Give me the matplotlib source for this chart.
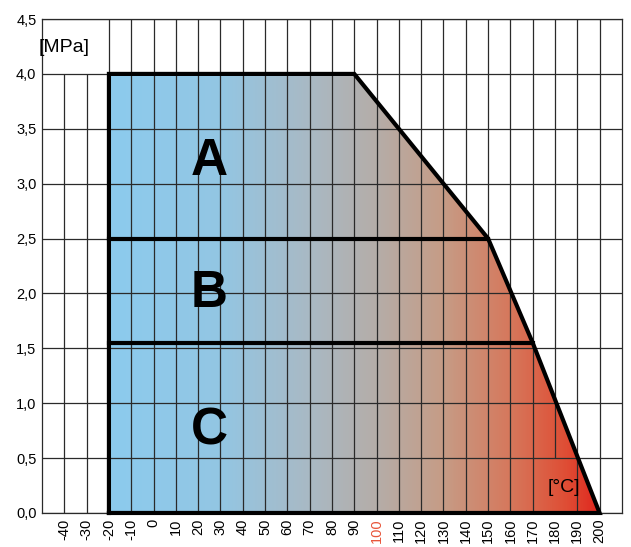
import numpy as np
import matplotlib
matplotlib.use("Agg")
import matplotlib.pyplot as plt
from matplotlib.patches import Polygon
from matplotlib.colors import LinearSegmentedColormap

plt.rcParams['font.family'] = ['Liberation Sans', 'DejaVu Sans']

# outline of the operating area (temperature in °C, pressure in MPa)
outline_t = [-20, -20, 90, 150, 170, 200]
outline_p = [0.0, 4.0, 4.0, 2.5, 1.55, 0.0]

# class boundaries
ab_line = (2.5, 150)    # pressure, end temperature
bc_line = (1.55, 170)

classes = ['A', 'B', 'C']
class_t = [25, 25, 25]
class_p = [3.2, 2.0, 0.75]

x_ticks = list(range(-40, 201, 10))
y_ticks = [0.0, 0.5, 1.0, 1.5, 2.0, 2.5, 3.0, 3.5, 4.0, 4.5]

# gradient colour stops (temperature -> colour)
grad_t = [-20, 30, 70, 100, 130, 160, 185, 200]
grad_c = ['#8ccbee', '#93c6e3', '#a9b9c4', '#b5ada8', '#c69c86', '#d6785c', '#df4e35', '#e0261e']

fig = plt.figure(figsize=(6.31, 5.47), dpi=100)
ax = fig.add_axes([0.0666, 0.0622, 0.919, 0.903])

# gradient fill clipped to the outline
pos = [(t - grad_t[0]) / (grad_t[-1] - grad_t[0]) for t in grad_t]
cmap = LinearSegmentedColormap.from_list('heat', list(zip(pos, grad_c)))
grad = np.linspace(0, 1, 512).reshape(1, -1)
img = ax.imshow(grad, cmap=cmap, aspect='auto', extent=(-20, 200, 0, 4.0),
                origin='lower', zorder=1, interpolation='bilinear')
poly = Polygon(list(zip(outline_t, outline_p)), closed=True, facecolor='none',
               edgecolor='none', transform=ax.transData)
ax.add_patch(poly)
img.set_clip_path(poly)

ax.set_xlim(-50, 210)
ax.set_ylim(0, 4.5)

# grid (left of the area the lines stop at 4.0, the 180 line leaves room for the unit)
for t in x_ticks:
    y0, y1 = 0, 4.5
    if t < -20:
        y1 = 4.0
    if t == 180:
        y0 = 0.5
    ax.vlines(t, y0, y1, color='#2a2a2a', lw=0.9, zorder=2)
for p in y_ticks:
    ax.axhline(p, color='#2a2a2a', lw=0.9, zorder=2)

# bold outline and class boundaries
ax.plot(outline_t + [outline_t[0]], outline_p + [outline_p[0]], color='black',
        lw=3, zorder=4, solid_joinstyle='miter', clip_on=False)
ax.plot([-20, ab_line[1]], [ab_line[0], ab_line[0]], color='black', lw=3, zorder=4)
ax.plot([-20, bc_line[1]], [bc_line[0], bc_line[0]], color='black', lw=3, zorder=4)

for name, t, p in zip(classes, class_t, class_p):
    ax.text(t, p, name, fontsize=37, fontweight='bold', ha='center', va='center', zorder=5)

ax.text(-40, 4.24, '[MPa]', fontsize=14, ha='center', va='center', zorder=5)
ax.text(184, 0.23, '[°C]', fontsize=14, ha='center', va='center', zorder=5)

ax.set_xticks(x_ticks)
ax.set_xticklabels([str(t) for t in x_ticks], rotation=90, fontsize=10.5)
ax.set_yticks(y_ticks)
ax.set_yticklabels([f'{p:.1f}'.replace('.', ',') for p in y_ticks], fontsize=10.5)
ax.tick_params(length=0, pad=4)
for lbl in ax.get_xticklabels():
    if lbl.get_text() == '100':
        lbl.set_color('#e8553a')

for s in ax.spines.values():
    s.set_linewidth(0.9)
    s.set_color('#2a2a2a')

fig.savefig('out.png', dpi=100)
